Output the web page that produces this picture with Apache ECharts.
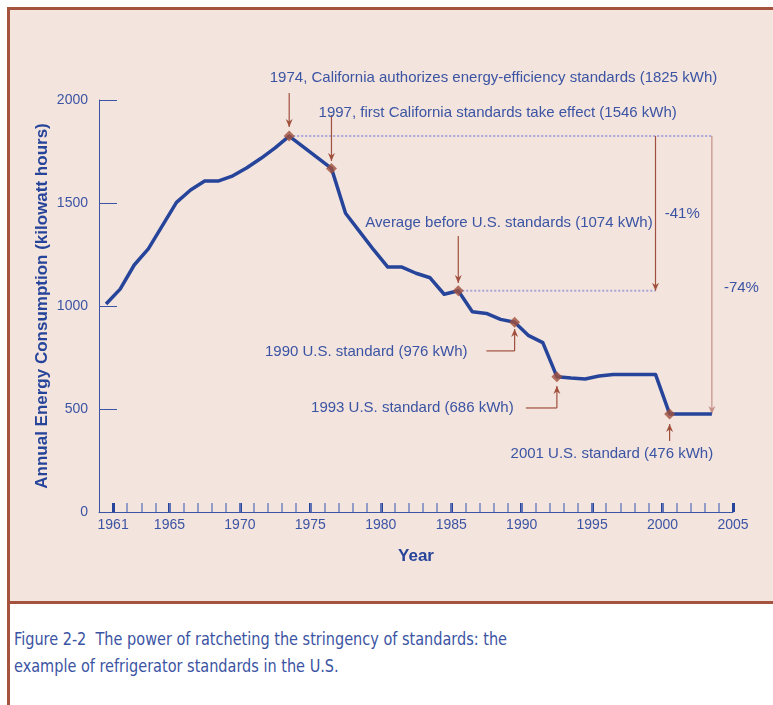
<!DOCTYPE html>
<html>
<head>
<meta charset="utf-8">
<title>Refrigerator standards</title>
<script src="https://cdn.jsdelivr.net/npm/echarts@6/dist/echarts.min.js"></script>
<style>
  body { margin: 0; width: 773px; height: 705px; overflow: hidden; background: #fff; }
  #frame { position: absolute; left: 7px; top: 7px; width: 800px; height: 760px;
           border-left: 3px solid #a5523f; border-top: 3px solid #a5523f; }
  #panel { position: absolute; left: 0; top: 0; width: 100%; height: 591px;
           background: #f3e4de; border-bottom: 3px solid #a5523f; }
  #chart { position: absolute; left: 0; top: 0; width: 773px; height: 600px; }
  #caption { position: absolute; left: 14px; top: 626px; color: #3b54a3;
             font-family: "Liberation Sans Narrow", "DejaVu Sans Condensed", sans-serif;
             font-size: 17.5px; line-height: 27px; white-space: nowrap;
             transform: scaleX(0.92); transform-origin: 0 0; }
</style>
</head>
<body>
<div id="frame"><div id="panel"></div></div>
<div id="chart"></div>
<div id="caption">Figure 2-2&nbsp; The power of ratcheting the stringency of standards: the<br>example of refrigerator standards in the U.S.</div>
<script>
// data
const years = [1961, 1962, 1963, 1964, 1965, 1966, 1967, 1968, 1969, 1970, 1971, 1972, 1973, 1974,
               1975, 1976, 1977, 1978, 1979, 1980, 1981, 1982, 1983, 1984, 1985, 1986,
               1987, 1988, 1989, 1990, 1991, 1992, 1993,
               1994, 1995, 1996, 1997, 1998, 1999, 2000,
               2001, 2002, 2003, 2004];
const kwh = [1010, 1082, 1199, 1277, 1390, 1503, 1563, 1607, 1607, 1632, 1671, 1717, 1768, 1825,
             1772, 1720, 1668, 1450, 1361, 1272, 1189, 1189, 1159, 1137, 1057, 1074,
             972, 964, 935, 921, 856, 822, 657,
             650, 646, 660, 668, 668, 668, 668,
             476, 476, 476, 476];
const markedYears = [1974, 1977, 1986, 1990, 1993, 2001];
const labelYears = [1961, 1965, 1970, 1975, 1980, 1985, 1990, 1995, 2000, 2005];

// the points sit half a year left of the tick marks in the original
const X_SHIFT = -0.5;
const BLUE = '#3b54a3';
const LINE = '#26449a';
const BROWN = '#a0503c';
const DOTS = '#a9a5d8';

const minorYears = [];
for (let y = 1962; y <= 2004; y++) minorYears.push(y);

const valueOf = y => kwh[years.indexOf(y)];
const plain = v => String(v);

const chart = echarts.init(document.getElementById('chart'));
const option = {
  animation: false,
  textStyle: { fontFamily: 'Liberation Sans, Arial, sans-serif' },
  grid: { left: 99, right: 40, top: 100, bottom: 88 },
  xAxis: [
    {
      type: 'value', min: 1960, max: 2005, position: 'bottom',
      axisLine: { show: true, lineStyle: { color: BLUE, width: 1 } },
      axisTick: { show: true, inside: true, length: 9, customValues: labelYears,
                  lineStyle: { color: LINE, width: 3 } },
      axisLabel: { customValues: labelYears, color: BLUE, fontSize: 14, margin: 6, formatter: plain },
      splitLine: { show: false },
      name: 'Year', nameLocation: 'middle', nameGap: 36,
      nameTextStyle: { color: LINE, fontSize: 17, fontWeight: 'bold' }
    },
    {
      type: 'value', min: 1960, max: 2005, position: 'bottom',
      axisLine: { show: false },
      axisTick: { show: true, inside: true, length: 9, customValues: minorYears,
                  lineStyle: { color: '#7483c0', width: 1.5 } },
      axisLabel: { show: false },
      splitLine: { show: false }
    }
  ],
  yAxis: {
    type: 'value', min: 0, max: 2000, interval: 500,
    axisLine: { show: true, lineStyle: { color: BLUE, width: 1 } },
    axisTick: { show: true, inside: true, length: 18, lineStyle: { color: BLUE, width: 1 } },
    axisLabel: { color: BLUE, fontSize: 14, margin: 11, formatter: plain },
    splitLine: { show: false },
    name: 'Annual Energy Consumption (kilowatt hours)', nameLocation: 'middle',
    nameGap: 48, nameRotate: 90, nameMoveOverlap: false,
    nameTextStyle: { color: LINE, fontSize: 17, fontWeight: 'bold' }
  },
  series: [
    {
      type: 'line', clip: false, showSymbol: false, z: 3,
      data: years.map((y, i) => [y + X_SHIFT, kwh[i]]),
      lineStyle: { color: LINE, width: 3.5, join: 'round' }
    },
    {
      type: 'scatter', symbol: 'diamond', symbolSize: 11, z: 4,
      itemStyle: { color: BROWN },
      data: markedYears.map(y => [y + X_SHIFT, valueOf(y)])
    }
  ]
};
chart.setOption(option);

// annotations, placed in data coordinates (year, kWh)
const at = (y, v) => chart.convertToPixel({ xAxisIndex: 0, yAxisIndex: 0 }, [y + X_SHIFT, v]);
const g = [];
const FONT = '15px "Liberation Sans", Arial, sans-serif';

function seg(a, b, color, width, dash) {
  g.push({ type: 'line', z: 2, silent: true,
    shape: { x1: a[0], y1: a[1], x2: b[0], y2: b[1] },
    style: { stroke: color, lineWidth: width, lineDash: dash || null } });
}
function head(tip, dir, color) {
  // dir 1 = pointing down, -1 = pointing up
  const [x, y] = tip;
  g.push({ type: 'polygon', z: 2, silent: true,
    shape: { points: [[x, y], [x - 3.5, y - 8 * dir], [x, y - 5.5 * dir], [x + 3.5, y - 8 * dir]] },
    style: { fill: color } });
}
function arrow(from, to, color) {
  seg(from, to, color, 1.2);
  head(to, to[1] > from[1] ? 1 : -1, color);
}
function label(p, text, align) {
  g.push({ type: 'text', z: 5, silent: true, x: p[0], y: p[1],
    style: { text: text, fill: BLUE, font: FONT, align: align || 'center', verticalAlign: 'middle' } });
}

// reference dotted levels
seg(at(1974, 1825), at(2004, 1825), DOTS, 2, [2, 2]);
seg(at(1986, 1074), at(2000, 1074), DOTS, 2, [2, 2]);
// reduction arrows
arrow(at(2000, 1825), at(2000, 1074), BROWN);
arrow(at(2004, 1825), at(2004, 476), '#c38f87');
label(at(2001.9, 1447), '-41%');
label(at(2006.1, 1087), '-74%');

// California
arrow(at(1974, 2034), at(1974, 1869), BROWN);
label(at(1988.5, 2107), '1974, California authorizes energy-efficiency standards (1825 kWh)');
arrow(at(1977, 1927), at(1977, 1704), BROWN);
label(at(1988.8, 1937), '1997, first California standards take effect (1546 kWh)');
arrow(at(1986, 1340), at(1986, 1112), BROWN);
label(at(1989.6, 1403), 'Average before U.S. standards (1074 kWh)');

// U.S. standards
seg(at(1988.0, 782), at(1990, 782), BROWN, 1.2);
arrow(at(1990, 782), at(1990, 888), BROWN);
label(at(1986.66, 777), '1990 U.S. standard (976 kWh)', 'right');
seg(at(1990.8, 505), at(1993, 505), BROWN, 1.2);
arrow(at(1993, 505), at(1993, 612), BROWN);
label(at(1989.93, 505), '1993 U.S. standard (686 kWh)', 'right');
arrow(at(2001, 345), at(2001, 427), BROWN);
label(at(1996.9, 282), '2001 U.S. standard (476 kWh)');

chart.setOption({ graphic: g });
</script>
</body>
</html>
